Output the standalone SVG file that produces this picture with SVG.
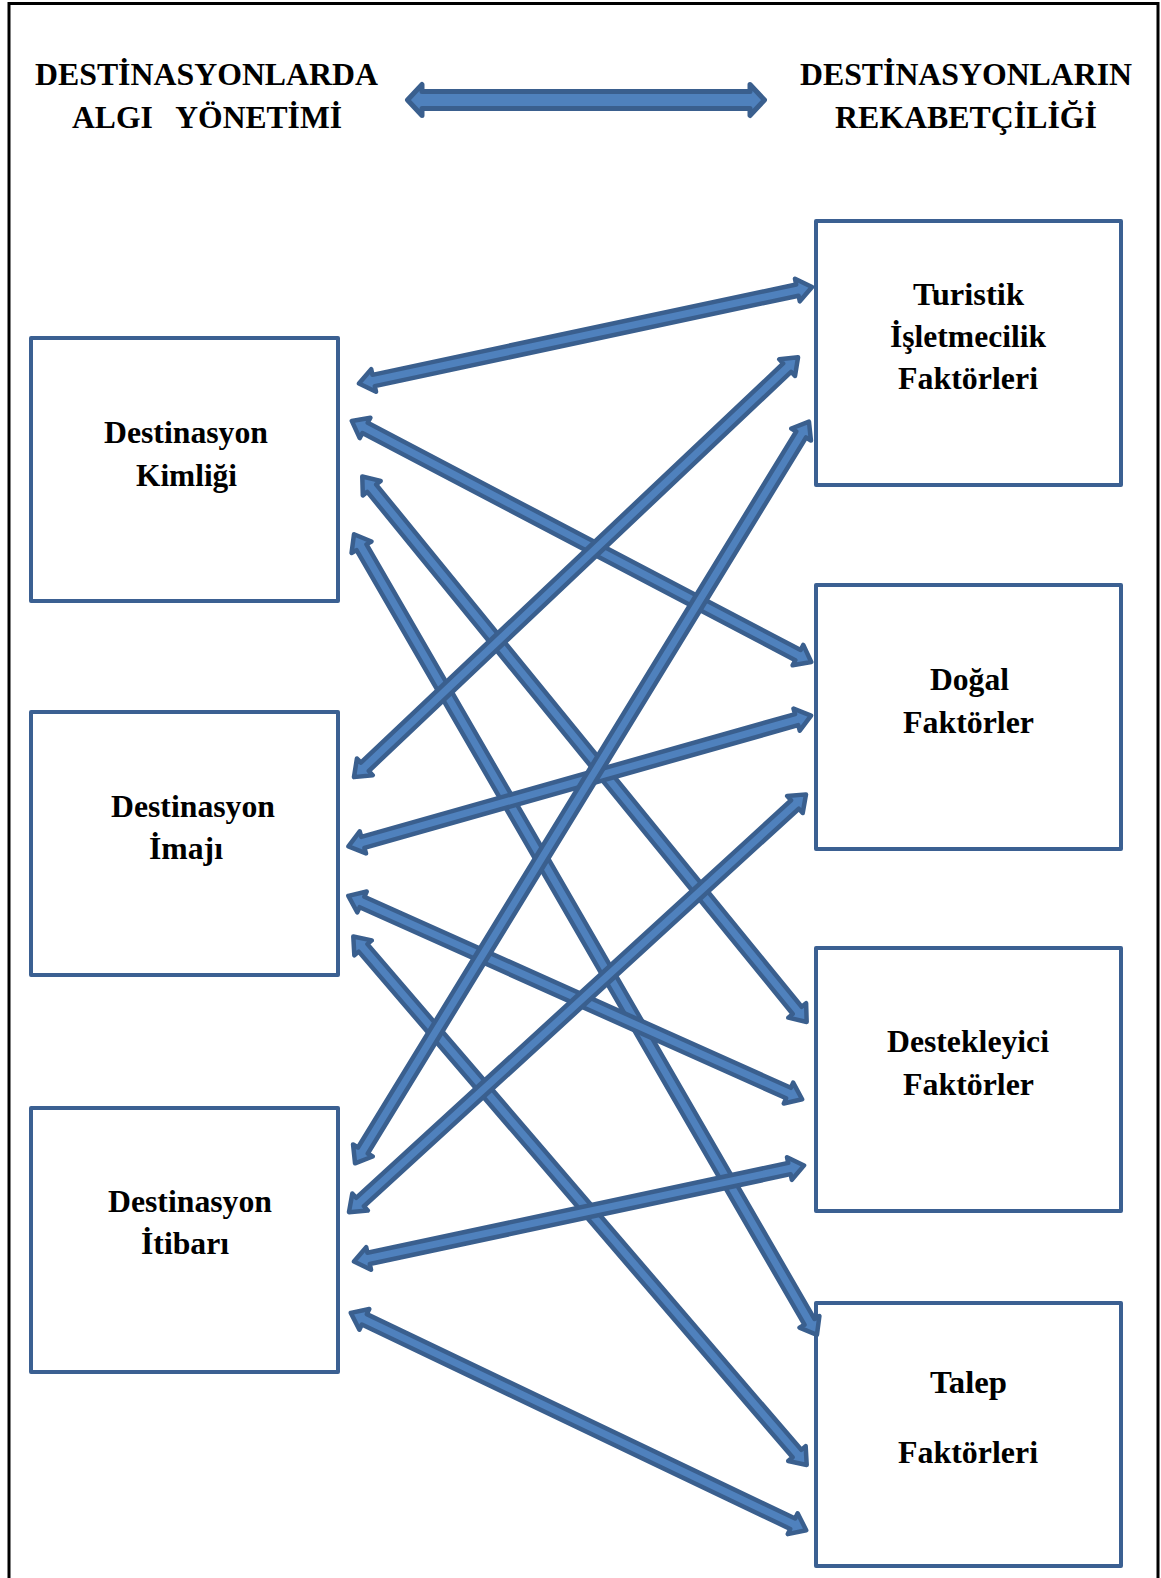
<svg xmlns="http://www.w3.org/2000/svg" width="1161" height="1578" viewBox="0 0 1161 1578">
  <style>
    .frame { fill: none; stroke: #000; stroke-width: 3; }
    .box { fill: #fff; stroke: #3B6092; stroke-width: 4; stroke-linejoin: round; }
    .arrow { fill: #4F81BD; stroke: #3A5F8E; stroke-width: 4.5; stroke-linejoin: round; }
    .big { stroke-width: 5; }
    text { font-family: "Liberation Serif", "Times New Roman", serif; font-weight: bold; fill: #000; }
    .head { font-size: 32px; }
    .lbl { font-size: 32px; }
  </style>
  <rect x="0" y="0" width="1161" height="1578" fill="#fff"/>
  <path class="frame" d="M9,1580 V3.5 H1158 V1580"/>

  <!-- headings -->
  <g id="heading-left">
    <text class="head" x="35" y="85" textLength="343" lengthAdjust="spacingAndGlyphs">DESTİNASYONLARDA</text>
    <text class="head" x="72" y="128" textLength="270" lengthAdjust="spacingAndGlyphs" xml:space="preserve">ALGI   YÖNETİMİ</text>
  </g>
  <g id="heading-right">
    <text class="head" x="800" y="85" textLength="332" lengthAdjust="spacingAndGlyphs">DESTİNASYONLARIN</text>
    <text class="head" x="835" y="128" textLength="262" lengthAdjust="spacingAndGlyphs">REKABETÇİLİĞİ</text>
  </g>

  <!-- left column -->
  <g id="kimlik">
    <rect class="box" x="31" y="338" width="307" height="263"/>
    <text class="lbl" x="104" y="443" textLength="164" lengthAdjust="spacingAndGlyphs">Destinasyon</text>
    <text class="lbl" x="136" y="486" textLength="101" lengthAdjust="spacingAndGlyphs">Kimliği</text>
  </g>
  <g id="imaj">
    <rect class="box" x="31" y="712" width="307" height="263"/>
    <text class="lbl" x="111" y="817" textLength="164" lengthAdjust="spacingAndGlyphs">Destinasyon</text>
    <text class="lbl" x="149" y="859" textLength="74" lengthAdjust="spacingAndGlyphs">İmajı</text>
  </g>
  <g id="itibar">
    <rect class="box" x="31" y="1108" width="307" height="264"/>
    <text class="lbl" x="108" y="1212" textLength="164" lengthAdjust="spacingAndGlyphs">Destinasyon</text>
    <text class="lbl" x="141" y="1254" textLength="88" lengthAdjust="spacingAndGlyphs">İtibarı</text>
  </g>

  <!-- right column -->
  <g id="turistik">
    <rect class="box" x="816" y="221" width="305" height="264"/>
    <text class="lbl" x="913" y="305" textLength="111" lengthAdjust="spacingAndGlyphs">Turistik</text>
    <text class="lbl" x="890" y="347" textLength="156" lengthAdjust="spacingAndGlyphs">İşletmecilik</text>
    <text class="lbl" x="898" y="389" textLength="140" lengthAdjust="spacingAndGlyphs">Faktörleri</text>
  </g>
  <g id="dogal">
    <rect class="box" x="816" y="585" width="305" height="264"/>
    <text class="lbl" x="930" y="690" textLength="79" lengthAdjust="spacingAndGlyphs">Doğal</text>
    <text class="lbl" x="903" y="733" textLength="131" lengthAdjust="spacingAndGlyphs">Faktörler</text>
  </g>
  <g id="destekleyici">
    <rect class="box" x="816" y="948" width="305" height="263"/>
    <text class="lbl" x="887" y="1052" textLength="162" lengthAdjust="spacingAndGlyphs">Destekleyici</text>
    <text class="lbl" x="903" y="1095" textLength="131" lengthAdjust="spacingAndGlyphs">Faktörler</text>
  </g>
  <g id="talep">
    <rect class="box" x="816" y="1303" width="305" height="263"/>
    <text class="lbl" x="930" y="1393" textLength="77" lengthAdjust="spacingAndGlyphs">Talep</text>
    <text class="lbl" x="898" y="1463" textLength="140" lengthAdjust="spacingAndGlyphs">Faktörleri</text>
  </g>

  <!-- connectors: double-headed block arrows -->
  <g id="connectors">
    <path class="arrow big" transform="translate(405,100)" d="M2.5,0 L17,-15.5 L17,-8.5 L345,-8.5 L345,-15.5 L359.5,0 L345,15.5 L345,8.5 L17,8.5 L17,15.5 Z"/>

    <path class="arrow" transform="translate(357,384) rotate(-12.04)" d="M2,0 L17,-11.5 L17,-5.75 L450.3,-5.75 L450.3,-11.5 L465.3,0 L450.3,11.5 L450.3,5.75 L17,5.75 L17,11.5 Z"/>
    <path class="arrow" transform="translate(350,420) rotate(27.69)" d="M2,0 L17,-11.5 L17,-5.75 L505.9,-5.75 L505.9,-11.5 L520.9,0 L505.9,11.5 L505.9,5.75 L17,5.75 L17,11.5 Z"/>
    <path class="arrow" transform="translate(361,475) rotate(50.83)" d="M2,0 L17,-11.5 L17,-5.75 L690.6,-5.75 L690.6,-11.5 L705.6,0 L690.6,11.5 L690.6,5.75 L17,5.75 L17,11.5 Z"/>
    <path class="arrow" transform="translate(353,532.5) rotate(59.96)" d="M2,0 L17,-11.5 L17,-5.75 L911.8,-5.75 L911.8,-11.5 L926.8,0 L911.8,11.5 L911.8,5.75 L17,5.75 L17,11.5 Z"/>

    <path class="arrow" transform="translate(352.5,778.5) rotate(-43.39)" d="M2,0 L17,-11.5 L17,-5.75 L598.1,-5.75 L598.1,-11.5 L613.1,0 L598.1,11.5 L598.1,5.75 L17,5.75 L17,11.5 Z"/>
    <path class="arrow" transform="translate(346.5,847) rotate(-15.80)" d="M2,0 L17,-11.5 L17,-5.75 L467.8,-5.75 L467.8,-11.5 L482.8,0 L467.8,11.5 L467.8,5.75 L17,5.75 L17,11.5 Z"/>
    <path class="arrow" transform="translate(346.5,895) rotate(24.14)" d="M2,0 L17,-11.5 L17,-5.75 L484.3,-5.75 L484.3,-11.5 L499.3,0 L484.3,11.5 L484.3,5.75 L17,5.75 L17,11.5 Z"/>
    <path class="arrow" transform="translate(352,935) rotate(49.37)" d="M2,0 L17,-11.5 L17,-5.75 L683.3,-5.75 L683.3,-11.5 L698.3,0 L683.3,11.5 L683.3,5.75 L17,5.75 L17,11.5 Z"/>

    <path class="arrow" transform="translate(354,1165) rotate(-58.53)" d="M2,0 L17,-11.5 L17,-5.75 L856.5,-5.75 L856.5,-11.5 L871.5,0 L856.5,11.5 L856.5,5.75 L17,5.75 L17,11.5 Z"/>
    <path class="arrow" transform="translate(347.5,1213.5) rotate(-42.43)" d="M2,0 L17,-11.5 L17,-5.75 L606.2,-5.75 L606.2,-11.5 L621.2,0 L606.2,11.5 L606.2,5.75 L17,5.75 L17,11.5 Z"/>
    <path class="arrow" transform="translate(352,1262) rotate(-12.06)" d="M2,0 L17,-11.5 L17,-5.75 L447.3,-5.75 L447.3,-11.5 L462.3,0 L447.3,11.5 L447.3,5.75 L17,5.75 L17,11.5 Z"/>
    <path class="arrow" transform="translate(349,1312) rotate(25.51)" d="M2,0 L17,-11.5 L17,-5.75 L491.6,-5.75 L491.6,-11.5 L506.6,0 L491.6,11.5 L491.6,5.75 L17,5.75 L17,11.5 Z"/>
  </g>
</svg>
